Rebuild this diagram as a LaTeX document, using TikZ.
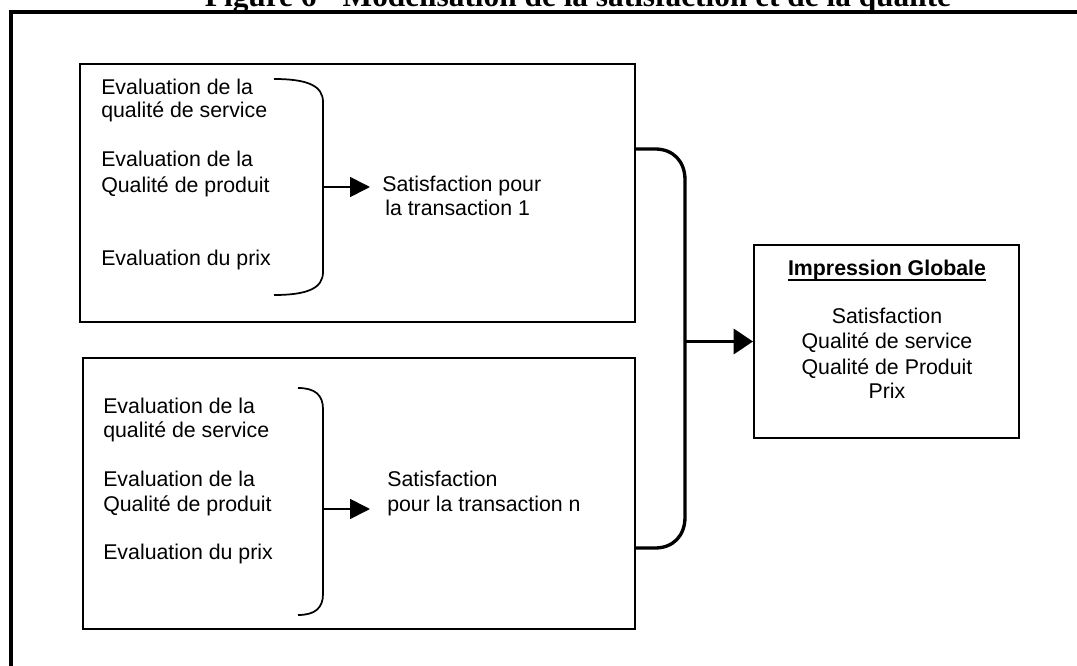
\documentclass[tikz,border=0pt]{standalone}
\usepackage{fontspec}
\setmainfont{Liberation Sans}
\newfontfamily\titlefont{Liberation Serif}
\usetikzlibrary{arrows.meta}
\begin{document}
\begin{tikzpicture}[x=0.75pt,y=-0.75pt,
  txt/.style={anchor=base west,inner sep=0pt,font=\fontsize{16}{19}\selectfont},
  ctxt/.style={anchor=base,inner sep=0pt,font=\fontsize{16}{19}\selectfont},
  boxx/.style={draw,line width=1.5pt,inner sep=0pt},
  brace/.style={line width=1.3pt},
  bigbrace/.style={line width=2.5pt},
  smallarrow/.style={line width=1.3pt,-{Triangle[length=15pt,width=15pt]}},
  bigarrow/.style={line width=2.5pt,-{Triangle[length=14.5pt,width=18.75pt]}}]
\useasboundingbox (0,0) rectangle (1077,666);
\clip (0,0) rectangle (1077,666);
\fill[white] (0,0) rectangle (1077,666);
% outer frame
\draw[line width=3pt] (11,700) -- (11,12) -- (1100,12);
% title
\node[anchor=base,inner sep=0pt,font=\titlefont\bfseries\fontsize{23.5}{28}\selectfont] (title) at (578,7) {Figure 6 - Modélisation de la satisfaction et de la qualité};
% boxes
\node[boxx,minimum width=555*0.75pt,minimum height=258*0.75pt] (box1) at (357.5,193) {};
\node[boxx,minimum width=552*0.75pt,minimum height=271*0.75pt] (box2) at (359,493.5) {};
\node[boxx,minimum width=265*0.75pt,minimum height=193*0.75pt] (imp) at (886.5,341.5) {};
% box 1 text
\node[txt] (l11) at (101,95) {Evaluation de la};
\node[txt] (l12) at (101,118) {qualité de service};
\node[txt] (l13) at (101,167) {Evaluation de la};
\node[txt] (l14) at (101,193) {Qualité de produit};
\node[txt] (l15) at (101,266) {Evaluation du prix};
\node[txt] (s11) at (382,192) {Satisfaction pour};
\node[txt] (s12) at (385,216) {la transaction 1};
% box 2 text
\node[txt] (l21) at (103,413) {Evaluation de la};
\node[txt] (l22) at (103,437) {qualité de service};
\node[txt] (l23) at (103,486) {Evaluation de la};
\node[txt] (l24) at (103,511) {Qualité de produit};
\node[txt] (l25) at (103,559) {Evaluation du prix};
\node[txt] (s21) at (387,486) {Satisfaction};
\node[txt] (s22) at (387,511) {pour la transaction n};
% impression text
\node[ctxt,font=\fontsize{16}{19}\selectfont\bfseries] (i0) at (887,276) {Impression Globale};
\draw[line width=1.5pt] ([yshift=-3pt]i0.base west) -- ([yshift=-3pt]i0.base east);
\node[ctxt] (i1) at (887,324) {Satisfaction};
\node[ctxt] (i2) at (887,349) {Qualité de service};
\node[ctxt] (i3) at (887,374) {Qualité de Produit};
\node[ctxt] (i4) at (887,398) {Prix};
% small braces
\draw[brace] (274,79) .. controls (308,79) and (323,86) .. (323,102) -- (323,272) .. controls (323,288) and (308,295) .. (274,295);
\draw[brace] (298,388) .. controls (315,388) and (323,395) .. (323,409) -- (323,594) .. controls (323,608) and (315,615) .. (298,615);
\coordinate (b1) at (323,187);
\coordinate (t1) at (370,187);
\coordinate (b2) at (323,509);
\coordinate (t2) at (370,509);
\draw[smallarrow] (b1) -- (t1);
\draw[smallarrow] (b2) -- (t2);
% big brace
\coordinate (bb1) at (box1.east |- 0,149);
\coordinate (bb2) at (box2.east |- 0,548);
\coordinate (bm) at (685,341.5);
\draw[bigbrace] (bb1) -- (655,149) .. controls (673,149) and (685,161) .. (685,180) -- (685,517) .. controls (685,536) and (673,548) .. (655,548) -- (bb2);
\draw[bigarrow] (bm) -- (imp.west);
\end{tikzpicture}
\end{document}
